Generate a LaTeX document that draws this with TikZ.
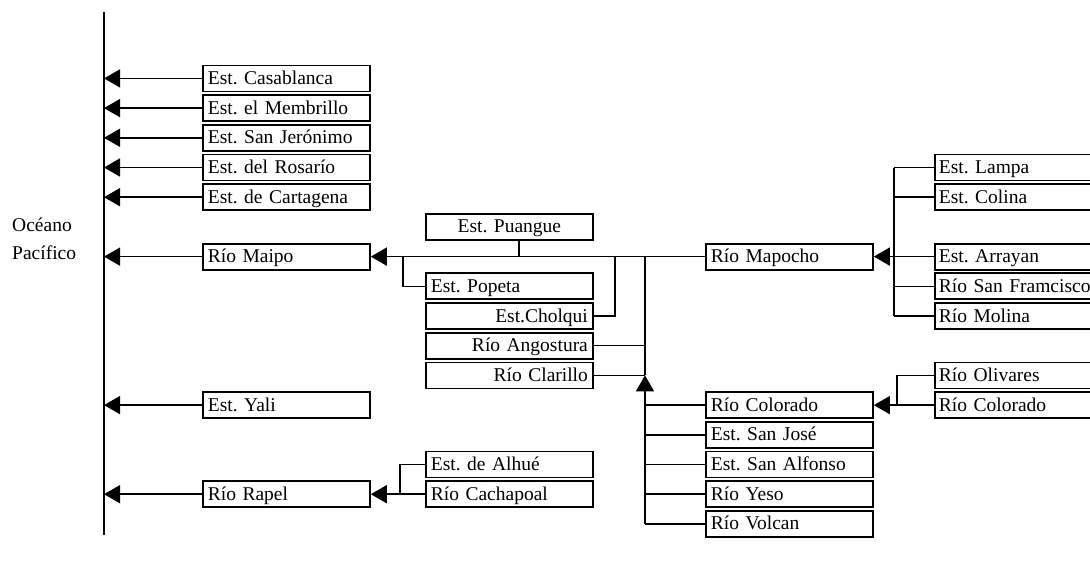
\documentclass[tikz,border=0pt]{standalone}
\usepackage{fontspec}
\setmainfont{Liberation Serif}
\usetikzlibrary{arrows.meta}
\frenchspacing
\begin{document}
\begin{tikzpicture}[x=1pt,y=-1pt,
  bx/.style={draw, line width=1.8pt, minimum height=26pt, inner xsep=5pt, inner ysep=4pt,
    text height=15pt, text depth=3pt, font=\fontsize{19.5}{22}\selectfont,
    anchor=north west, text width=157pt, align=left},
  bxr/.style={bx, align=right},
  bxc/.style={bx, align=center},
  bxw/.style={bx, inner xsep=4pt, text width=162pt},
  conn/.style={line width=1.5pt},
  arr/.style={conn, -{Triangle[length=16pt,width=18pt]}},
  lbl/.style={font=\fontsize{19.5}{22}\selectfont, anchor=base west, inner sep=0pt}]
\useasboundingbox (0,0) rectangle (1090,563);

% ocean line
\coordinate (otop) at (104,12);
\coordinate (obot) at (104,535);
\draw[line width=2pt] (otop) -- (obot);
\node[lbl] (oceano) at (12,231) {Océano};
\node[lbl] (pacifico) at (12,259.5) {Pacífico};

% left column
\node[bx] (cas) at (202,64.5) {Est. Casablanca};
\node[bx] (mem) at (202,94.2) {Est. el Membrillo};
\node[bx] (jer) at (202,123.9) {Est. San Jerónimo};
\node[bx] (ros) at (202,153.6) {Est. del Rosarío};
\node[bx] (car) at (202,183.3) {Est. de Cartagena};
\node[bx] (maipo) at (202,242.7) {Río Maipo};
\node[bx] (yali) at (202,391.2) {Est. Yali};
\node[bx] (rapel) at (202,480.3) {Río Rapel};

% middle column
\node[bxc] (puan) at (425,213) {Est. Puangue};
\node[bx] (pope) at (425,272.4) {Est. Popeta};
\node[bxr] (chol) at (425,302.1) {Est.Cholqui};
\node[bxr] (ango) at (425,331.8) {Río Angostura};
\node[bxr] (clar) at (425,361.5) {Río Clarillo};
\node[bx] (alhue) at (425,450.6) {Est. de Alhué};
\node[bx] (cacha) at (425,480.3) {Río Cachapoal};

% right column
\node[bx] (mapo) at (705,242.7) {Río Mapocho};
\node[bx] (colo) at (705,391.2) {Río Colorado};
\node[bx] (jose) at (705,420.9) {Est. San José};
\node[bx] (alfo) at (705,450.6) {Est. San Alfonso};
\node[bx] (yeso) at (705,480.3) {Río Yeso};
\node[bx] (volc) at (705,510) {Río Volcan};

% far right column
\node[bxw] (lampa) at (934,153.6) {Est. Lampa};
\node[bxw] (coli) at (934,183.3) {Est. Colina};
\node[bxw] (arra) at (934,242.7) {Est. Arrayan};
\node[bxw] (sfra) at (934,272.4) {Río San Framcisco};
\node[bxw] (moli) at (934,302.1) {Río Molina};
\node[bxw] (oliv) at (934,361.5) {Río Olivares};
\node[bxw] (colo2) at (934,391.2) {Río Colorado};

% into the ocean
\foreach \n in {cas,mem,jer,ros,car,maipo,yali,rapel}
  \draw[arr] (\n.west) -- (\n.west -| otop);

% Maipo system
\coordinate (jpu) at (519,255.7);
\coordinate (jpo) at (403,255.7);
\coordinate (jch) at (615,255.7);
\coordinate (jv) at (645,255.7);
\draw[arr] (mapo.west) -- (maipo.east);
\draw[conn] (puan.south -| jpu) -- (jpu);
\draw[conn] (pope.west) -| (jpo);
\draw[conn] (chol.east) -| (jch);
\draw[conn] (ango.east) -- (ango.east -| jv);
\draw[conn] (clar.east) -- (clar.east -| jv);
\coordinate (jcl) at (clar.east -| jv);
\draw[arr] (volc.west -| jv) -- (jcl);
\draw[conn] (jcl) -- (jv);
\foreach \n in {colo,jose,alfo,yeso,volc}
  \draw[conn] (\n.west) -- (\n.west -| jv);

% Mapocho system
\coordinate (jm) at (894,255.7);
\draw[conn] (lampa.west -| jm) -- (moli.west -| jm);
\foreach \n in {lampa,coli,sfra,moli}
  \draw[conn] (\n.west) -- (\n.west -| jm);
\draw[arr] (arra.west) -- (mapo.east);

% Colorado system
\coordinate (jc) at (897,404.2);
\draw[conn] (oliv.west) -| (jc);
\draw[arr] (colo2.west) -- (colo.east);

% Rapel system
\coordinate (jr) at (400,493.3);
\draw[conn] (alhue.west) -| (jr);
\draw[arr] (cacha.west) -- (rapel.east);
\end{tikzpicture}
\end{document}
